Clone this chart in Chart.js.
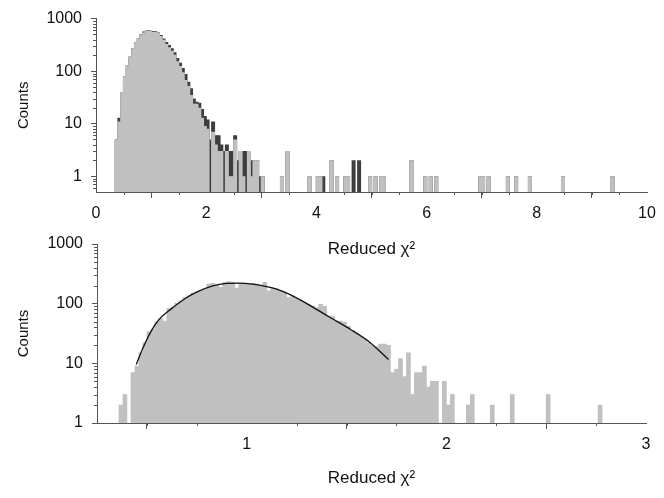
<!DOCTYPE html>
<html>
<head>
<meta charset="utf-8">
<script src="https://cdn.jsdelivr.net/npm/chart.js@4.4.1/dist/chart.umd.min.js"></script>
<style>
  html, body { margin: 0; padding: 0; background: #fff; }
  #wrap { position: relative; width: 664px; height: 498px; }
  canvas { position: absolute; left: 0; }
  #c1 { top: 0; }
  #c2 { top: 225px; }
</style>
</head>
<body>
<div id="wrap">
  <canvas id="c1" width="664" height="262"></canvas>
  <canvas id="c2" width="664" height="273"></canvas>
</div>
<script>
// ---- top panel: histograms, bins of 0.05 starting at 0.35 ----
const topBinStart = 0.35;
const topBinWidth = 0.05;
// dark histogram (all)
const topAll = [5, 13, 39, 80, 130, 190, 272, 355, 420, 510,
  565, 595, 595, 580, 575, 545, 485, 420, 360, 315,
  272, 230, 178, 145, 115, 88, 63, 47, 30, 26,
  25, 19, 14, 12, 5, 11, 6, 6, 4, 3,
  4, 3, 3, 6, 2, 3, 3, 3, 3, 2,
  2, 2, 1, 1];
// light histogram (selected)
const topSel = [5, 11, 39, 80, 130, 190, 272, 355, 420, 505,
  550, 580, 580, 560, 555, 530, 465, 395, 330, 285,
  245, 205, 155, 125, 95, 68, 52, 35, 24, 24,
  20, 13, 9, 8, null, 7, 4, 3, 3, null,
  3, 1, 1, 5, null, 3, 1, null, 3, 1,
  2, 2, null, 1];
// sparse tail, bin starts
const topTailX = [3.35, 3.45, 3.85, 4.00, 4.05, 4.10, 4.25, 4.35, 4.50, 4.55, 4.65, 4.75,
  4.95, 5.05, 5.15, 5.20, 5.70, 5.95, 6.05, 6.15, 6.95, 7.00, 7.10, 7.45, 7.60, 7.85, 8.45, 9.35];
const topTailAll = [1, 3, 1, 1, 1, 1, 2, 1, 1, 1, 2, 2,
  1, 1, 1, 1, 2, 1, 1, 1, 1, 1, 1, 1, 1, 1, 1, 1];
const topTailSel = [1, 3, 1, 1, 1, null, 2, 1, 1, 1, null, null,
  1, 1, 1, 1, 2, 1, 1, 1, 1, 1, 1, 1, 1, 1, 1, 1];
const topXTicks = [0, 2, 4, 6, 8, 10];

// ---- bottom panel: histogram, bins of 0.02 starting at 0.36, plus fit ----
const botBinStart = 0.36;
const botBinWidth = 0.02;
const botCounts = [2, 3, null, 7, 9, 15, 22, 34, 37, 50,
  56, 51, 83, 86, 102, 111, 127, 135, 150, 158,
  164, 180, 213, 219, 205, 187, 227, 234, 227, 183,
  219, 219, 213, 219, 213, 205, 227, 164, 180, 178,
  165, 158, 127, 135, 122, 116, 104, 98, 92, 86,
  98, 90, 62, 61, 51, 51, 49, 42, 35, 32,
  28, 25, 22, 20, 19, 21, 21, 20, 7, 8,
  12, 6, 15, 3, 7, 7, 9, 4, 5, 5,
  null, 5, 2, 3, null, null, null, 2, 3];
const botTailX = [2.22, 2.32, 2.50, 2.76];
const botTailCounts = [2, 3, 3, 2];
const fitX = [0.447, 0.48, 0.52, 0.56, 0.62, 0.70, 0.76, 0.83, 0.90, 0.96,
  1.03, 1.10, 1.15, 1.22, 1.32, 1.42, 1.52, 1.62, 1.71];
const fitY = [9.6, 18, 34, 54, 81, 127, 162, 198, 218, 221,
  212, 193, 175, 140, 92, 58, 37, 22, 11.6];
const botXTicks = [1, 2, 3];

const yTicks = [1, 10, 100, 1000];

const FONT = "'Liberation Sans', Arial, Helvetica, sans-serif";
const AXIS = '#555';
const LIGHT = '#c0c0c0';
const DARK = '#3e3e3e';

function binPoints(start, width, counts) {
  return counts.map((c, i) => ({ x: +(start + (i + 0.5) * width).toFixed(4), y: c }));
}
function tailPoints(xs, counts, width) {
  return xs.map((x, i) => ({ x: +(x + width / 2).toFixed(4), y: counts[i] }))
    .filter(p => p.y != null);
}

// small ticks between the labelled ones
const minorTicks = {
  id: 'minorTicks',
  afterDraw(chart, args, opts) {
    const { ctx } = chart;
    const x = chart.scales.x, y = chart.scales.y;
    ctx.save();
    ctx.strokeStyle = AXIS;
    ctx.lineWidth = 1;
    ctx.beginPath();
    for (let v = x.min + opts.xStep; v < x.max - 1e-9; v += opts.xStep) {
      if (opts.xMajor.some(m => Math.abs(m - v) < 1e-6)) continue;
      const px = Math.round(x.getPixelForValue(v)) + 0.5;
      ctx.moveTo(px, y.bottom);
      ctx.lineTo(px, y.bottom + opts.xLen);
    }
    for (let d = Math.floor(Math.log10(y.min)); d < Math.log10(y.max); d++) {
      for (let k = 2; k <= 9; k++) {
        const v = k * Math.pow(10, d);
        if (v <= y.min || v >= y.max) continue;
        const py = Math.round(y.getPixelForValue(v)) + 0.5;
        ctx.moveTo(x.left - opts.yLen, py);
        ctx.lineTo(x.left, py);
      }
    }
    ctx.stroke();
    ctx.restore();
  }
};

function baseOptions(cfg) {
  return {
    responsive: false,
    animation: false,
    events: [],
    layout: { padding: cfg.padding },
    plugins: {
      legend: { display: false },
      tooltip: { enabled: false },
      minorTicks: { xStep: cfg.xStep, xMajor: cfg.xTicks, xLen: 3, yLen: 3 }
    },
    scales: {
      x: {
        type: 'linear',
        offset: false,
        min: cfg.xMin,
        max: cfg.xMax,
        afterBuildTicks: s => { s.ticks = cfg.xTicks.map(v => ({ value: v })); },
        afterFit: s => { s.height = cfg.xHeight; },
        grid: { display: true, drawOnChartArea: false, drawTicks: true, tickLength: 6, color: AXIS },
        border: { display: true, color: AXIS, width: 1 },
        ticks: { autoSkip: false, maxRotation: 0, padding: 6, color: '#111',
          font: { family: FONT, size: 16 }, callback: v => String(v) },
        title: { display: true, text: 'Reduced χ²', color: '#111',
          font: { family: FONT, size: 17 }, padding: { top: 0, bottom: cfg.titlePad } }
      },
      y: {
        type: 'logarithmic',
        min: cfg.yMin,
        max: 1000,
        afterBuildTicks: s => { s.ticks = yTicks.map(v => ({ value: v })); },
        afterFit: s => { s.width = cfg.yWidth; },
        grid: { display: true, drawOnChartArea: false, drawTicks: true, tickLength: 5, color: AXIS },
        border: { display: true, color: AXIS, width: 1 },
        ticks: { autoSkip: false, padding: 9, color: '#111',
          font: { family: FONT, size: 16 }, callback: v => String(v) },
        title: { display: true, text: 'Counts', color: '#111',
          font: { family: FONT, size: 15 }, padding: { top: 15, bottom: 0 } }
      }
    }
  };
}

new Chart(document.getElementById('c1'), {
  type: 'bar',
  data: {
    datasets: [
      {
        label: 'selected',
        data: binPoints(topBinStart, topBinWidth, topSel)
          .concat(tailPoints(topTailX, topTailSel, topBinWidth)),
        backgroundColor: LIGHT,
        borderWidth: 0,
        grouped: false,
        barPercentage: 1.45,
        categoryPercentage: 1,
        order: 0
      },
      {
        label: 'all',
        data: binPoints(topBinStart, topBinWidth, topAll)
          .concat(tailPoints(topTailX, topTailAll, topBinWidth)),
        backgroundColor: DARK,
        borderWidth: 0,
        grouped: false,
        barPercentage: 1.45,
        categoryPercentage: 1,
        order: 1
      }
    ]
  },
  options: baseOptions({
    padding: { left: 0, right: 17, top: 14, bottom: 0 },
    xMin: 0, xMax: 10, xStep: 0.5, xTicks: topXTicks,
    xHeight: 70, yWidth: 96, yMin: 0.5, titlePad: 2
  }),
  plugins: [minorTicks]
});

new Chart(document.getElementById('c2'), {
  type: 'bar',
  data: {
    datasets: [
      {
        type: 'line',
        label: 'fit',
        data: fitX.map((x, i) => ({ x: x, y: fitY[i] })),
        borderColor: '#111',
        borderWidth: 1.3,
        pointRadius: 0,
        fill: false,
        cubicInterpolationMode: 'monotone',
        order: 0
      },
      {
        label: 'counts',
        data: binPoints(botBinStart, botBinWidth, botCounts)
          .concat(tailPoints(botTailX, botTailCounts, botBinWidth)),
        backgroundColor: LIGHT,
        borderWidth: 0,
        grouped: false,
        barPercentage: 1,
        categoryPercentage: 1,
        order: 1
      }
    ]
  },
  options: baseOptions({
    padding: { left: 0, right: 18, top: 19, bottom: 0 },
    xMin: 0.25, xMax: 3, xStep: 0.25, xTicks: botXTicks,
    xHeight: 75, yWidth: 97, yMin: 1, titlePad: 9
  }),
  plugins: [minorTicks]
});
</script>
</body>
</html>
